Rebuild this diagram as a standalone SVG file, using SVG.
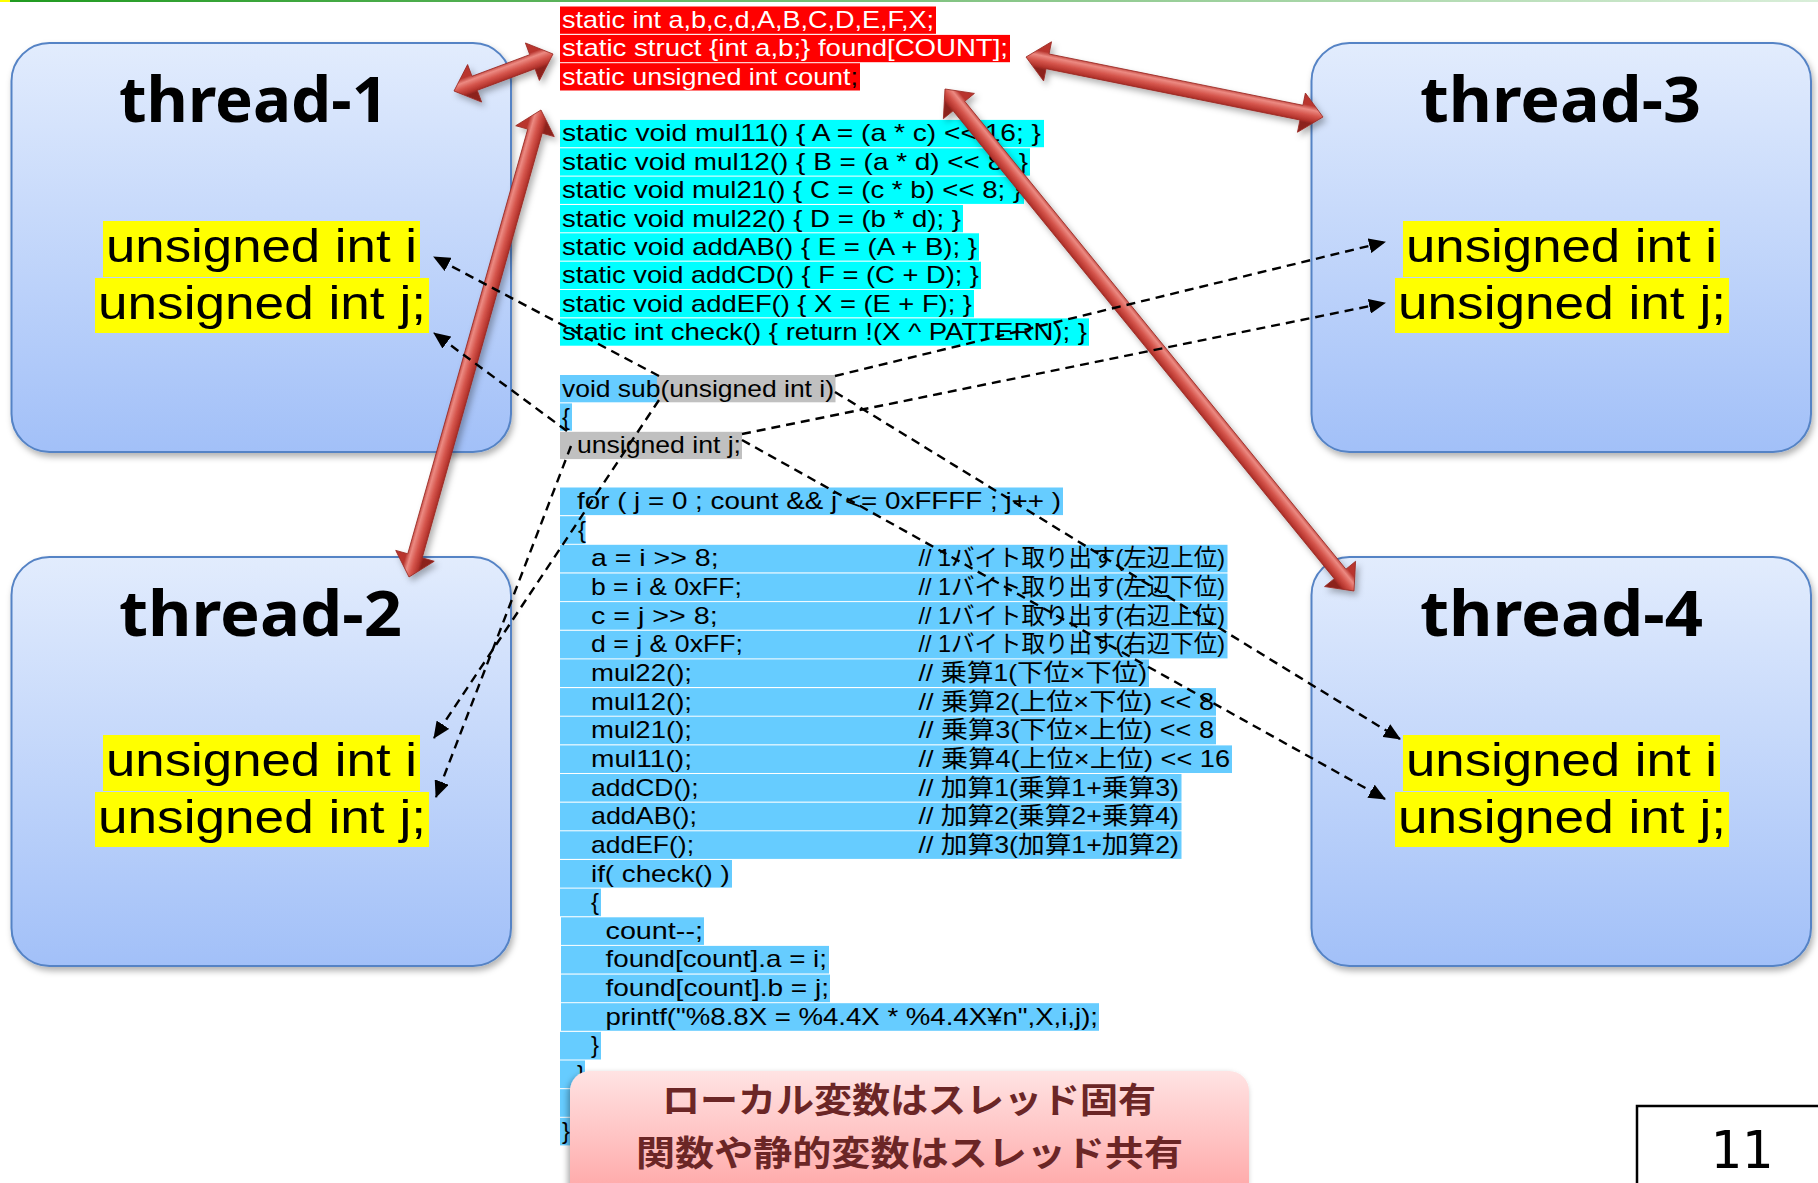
<svg xmlns="http://www.w3.org/2000/svg" width="1818" height="1183" viewBox="0 0 1818 1183">
  <defs>
    <linearGradient id="topRule" x1="0" y1="0" x2="1" y2="0">
      <stop offset="0" stop-color="#1f9a1f"/>
      <stop offset="0.5" stop-color="#7fc27f"/>
      <stop offset="1" stop-color="#d9eed9"/>
    </linearGradient>
    <linearGradient id="threadFill" x1="0" y1="0" x2="0" y2="1">
      <stop offset="0" stop-color="#e2ecfd"/>
      <stop offset="1" stop-color="#a2c0f8"/>
    </linearGradient>
    <linearGradient id="noteFill" x1="0" y1="0" x2="0" y2="1">
      <stop offset="0" stop-color="#ffe3e3"/>
      <stop offset="1" stop-color="#ff9f9f"/>
    </linearGradient>
    <linearGradient id="redShaft" gradientUnits="userSpaceOnUse" x1="0" y1="-9" x2="0" y2="9">
      <stop offset="0" stop-color="#b9362f"/>
      <stop offset="0.25" stop-color="#ec8a82"/>
      <stop offset="0.55" stop-color="#d5554c"/>
      <stop offset="0.85" stop-color="#b3332c"/>
      <stop offset="1" stop-color="#8c231e"/>
    </linearGradient>
    <filter id="boxShadow" x="-5%" y="-5%" width="112%" height="115%">
      <feDropShadow dx="2" dy="4" stdDeviation="3" flood-color="#000" flood-opacity="0.3"/>
    </filter>
    <filter id="noteShadow" x="-5%" y="-10%" width="110%" height="130%">
      <feDropShadow dx="-2" dy="3" stdDeviation="3" flood-color="#000" flood-opacity="0.35"/>
    </filter>
    <filter id="arrowShadow" x="-10%" y="-10%" width="125%" height="125%">
      <feDropShadow dx="3" dy="4" stdDeviation="3" flood-color="#000" flood-opacity="0.3"/>
    </filter>
    <marker id="tri" markerUnits="userSpaceOnUse" markerWidth="17" markerHeight="15" refX="16" refY="7.5" orient="auto">
      <path d="M0,0 L17,7.5 L0,15 Z" fill="#000"/>
    </marker>
    <style>
      .tbox { fill: url(#threadFill); stroke: #5583c5; stroke-width: 2; filter: url(#boxShadow); }
      .ttl { font-family: "Noto Sans", sans-serif; font-weight: 700; font-size: 62px; fill: #000; }
      .var { font-family: "Liberation Sans", sans-serif; font-size: 47px; fill: #000; }
      .hl-y { fill: #ffff00; }
      .code { font-family: "Liberation Sans", "Noto Sans CJK JP", sans-serif; font-size: 24px; fill: #000; }
      .code-w { fill: #fff; }
      .red { fill: #ff0000; }
      .cyan { fill: #00ffff; }
      .blue { fill: #66ccff; }
      .gray { fill: #c0c0c0; }
      .note { font-family: "Noto Sans CJK JP", sans-serif; font-weight: 700; font-size: 35px; fill: #6b2626; }
      .dash { fill: none; stroke: #000; stroke-width: 2.4; stroke-dasharray: 9 6; marker-end: url(#tri); }
      .arrow { fill: url(#redShaft); stroke: #9a2a24; stroke-width: 0.8; }
    </style>
  </defs>

  <rect width="1818" height="1183" fill="#fff"/>
  <!-- slide title rule -->
  <rect x="0" y="0" width="1818" height="2" fill="url(#topRule)"/>
  <rect x="0" y="0" width="10" height="2" fill="#ffff00"/>

  <!-- thread nodes -->
  <g id="thread-1">
    <rect class="tbox" x="11.5" y="43" width="499.5" height="409" rx="38"/>
    <text class="ttl" x="119" y="122" textLength="269" lengthAdjust="spacingAndGlyphs">thread-1</text>
    <rect class="hl-y" x="103" y="221" width="317" height="56"/>
    <rect class="hl-y" x="95" y="278" width="334" height="55"/>
    <text class="var" x="106" y="262" textLength="311" lengthAdjust="spacingAndGlyphs">unsigned int i</text>
    <text class="var" x="98" y="319" textLength="328" lengthAdjust="spacingAndGlyphs">unsigned int j;</text>
  </g>
  <g id="thread-2" transform="translate(0,514)">
    <rect class="tbox" x="11.5" y="43" width="499.5" height="409" rx="38"/>
    <text class="ttl" x="119" y="122" textLength="283" lengthAdjust="spacingAndGlyphs">thread-2</text>
    <rect class="hl-y" x="103" y="221" width="317" height="56"/>
    <rect class="hl-y" x="95" y="278" width="334" height="55"/>
    <text class="var" x="106" y="262" textLength="311" lengthAdjust="spacingAndGlyphs">unsigned int i</text>
    <text class="var" x="98" y="319" textLength="328" lengthAdjust="spacingAndGlyphs">unsigned int j;</text>
  </g>
  <g id="thread-3" transform="translate(1300,0)">
    <rect class="tbox" x="11.5" y="43" width="499.5" height="409" rx="38"/>
    <text class="ttl" x="120" y="122" textLength="281" lengthAdjust="spacingAndGlyphs">thread-3</text>
    <rect class="hl-y" x="103" y="221" width="317" height="56"/>
    <rect class="hl-y" x="95" y="278" width="334" height="55"/>
    <text class="var" x="106" y="262" textLength="311" lengthAdjust="spacingAndGlyphs">unsigned int i</text>
    <text class="var" x="98" y="319" textLength="328" lengthAdjust="spacingAndGlyphs">unsigned int j;</text>
  </g>
  <g id="thread-4" transform="translate(1300,514)">
    <rect class="tbox" x="11.5" y="43" width="499.5" height="409" rx="38"/>
    <text class="ttl" x="120" y="122" textLength="283" lengthAdjust="spacingAndGlyphs">thread-4</text>
    <rect class="hl-y" x="103" y="221" width="317" height="56"/>
    <rect class="hl-y" x="95" y="278" width="334" height="55"/>
    <text class="var" x="106" y="262" textLength="311" lengthAdjust="spacingAndGlyphs">unsigned int i</text>
    <text class="var" x="98" y="319" textLength="328" lengthAdjust="spacingAndGlyphs">unsigned int j;</text>
  </g>

  <!-- shared source code listing -->
  <g id="code" xml:space="preserve">
    <g id="code-highlights">
      <rect class="red" x="560" y="6.5" width="376" height="27.3"/>
      <rect class="red" x="560" y="34.9" width="450" height="27.3"/>
      <rect class="red" x="560" y="63.2" width="300" height="27.3"/>
      <rect class="cyan" x="560" y="119.9" width="484" height="27.3"/>
      <rect class="cyan" x="560" y="148.3" width="470" height="27.3"/>
      <rect class="cyan" x="560" y="176.6" width="464" height="27.3"/>
      <rect class="cyan" x="560" y="205" width="403" height="27.3"/>
      <rect class="cyan" x="560" y="233.3" width="419" height="27.3"/>
      <rect class="cyan" x="560" y="261.7" width="421" height="27.3"/>
      <rect class="cyan" x="560" y="290" width="414" height="27.3"/>
      <rect class="cyan" x="560" y="318.4" width="529" height="27.3"/>
      <rect class="blue" x="560" y="375" width="97" height="27.3"/>
      <rect class="gray" x="657" y="375" width="178.5" height="27.3"/>
      <rect class="blue" x="560" y="403.4" width="12" height="27.3"/>
      <rect class="gray" x="560" y="431.8" width="182" height="27.3"/>
      <rect class="blue" x="560" y="487.5" width="503" height="27.6"/>
      <rect class="blue" x="560" y="516.2" width="25.5" height="27.6"/>
      <rect class="blue" x="560" y="544.8" width="667.5" height="27.6"/>
      <rect class="blue" x="560" y="573.5" width="667.5" height="27.6"/>
      <rect class="blue" x="560" y="602.1" width="667.5" height="27.6"/>
      <rect class="blue" x="560" y="630.8" width="667.5" height="27.6"/>
      <rect class="blue" x="560" y="659.4" width="589" height="27.6"/>
      <rect class="blue" x="560" y="688.1" width="656" height="27.6"/>
      <rect class="blue" x="560" y="716.7" width="656" height="27.6"/>
      <rect class="blue" x="560" y="745.4" width="672" height="27.6"/>
      <rect class="blue" x="560" y="774" width="621.5" height="27.6"/>
      <rect class="blue" x="560" y="802.7" width="621.5" height="27.6"/>
      <rect class="blue" x="560" y="831.3" width="621.5" height="27.6"/>
      <rect class="blue" x="560" y="860" width="172" height="27.6"/>
      <rect class="blue" x="560" y="888.6" width="41" height="27.6"/>
      <rect class="blue" x="561" y="917.3" width="143" height="27.6"/>
      <rect class="blue" x="561" y="945.9" width="268" height="27.6"/>
      <rect class="blue" x="561" y="974.6" width="269" height="27.6"/>
      <rect class="blue" x="561" y="1003.2" width="538" height="27.6"/>
      <rect class="blue" x="560" y="1031.9" width="41" height="27.6"/>
      <rect class="blue" x="560" y="1060.5" width="25" height="27.6"/>
      <rect class="blue" x="560" y="1089.2" width="10" height="27.6"/>
      <rect class="blue" x="560" y="1117.8" width="10" height="27.6"/>
    </g>
    <g id="code-text" class="code">
      <text class="code-w" x="562" y="28" textLength="372" lengthAdjust="spacingAndGlyphs">static int a,b,c,d,A,B,C,D,E,F,X;</text>
      <text class="code-w" x="562" y="56.4" textLength="446" lengthAdjust="spacingAndGlyphs">static struct {int a,b;} found[COUNT];</text>
      <text class="code-w" x="562" y="84.7" textLength="296" lengthAdjust="spacingAndGlyphs">static unsigned int count<tspan fill="#000">;</tspan></text>
      <text x="562" y="141.4" textLength="479" lengthAdjust="spacingAndGlyphs">static void mul11() { A = (a * c) &lt;&lt; 16; }</text>
      <text x="562" y="169.8" textLength="466" lengthAdjust="spacingAndGlyphs">static void mul12() { B = (a * d) &lt;&lt; 8; }</text>
      <text x="562" y="198.1" textLength="460" lengthAdjust="spacingAndGlyphs">static void mul21() { C = (c * b) &lt;&lt; 8; }</text>
      <text x="562" y="226.5" textLength="399" lengthAdjust="spacingAndGlyphs">static void mul22() { D = (b * d); }</text>
      <text x="562" y="254.8" textLength="415" lengthAdjust="spacingAndGlyphs">static void addAB() { E = (A + B); }</text>
      <text x="562" y="283.2" textLength="417" lengthAdjust="spacingAndGlyphs">static void addCD() { F = (C + D); }</text>
      <text x="562" y="311.5" textLength="410" lengthAdjust="spacingAndGlyphs">static void addEF() { X = (E + F); }</text>
      <text x="562" y="339.9" textLength="525" lengthAdjust="spacingAndGlyphs">static int  check() { return !(X ^ PATTERN); }</text>
      <text x="562" y="396.5" textLength="272" lengthAdjust="spacingAndGlyphs">void sub(unsigned int i)</text>
      <text x="562" y="424.9">{</text>
      <text x="577" y="453.3" textLength="164" lengthAdjust="spacingAndGlyphs">unsigned int j;</text>
      <text x="577" y="509" textLength="484" lengthAdjust="spacingAndGlyphs">for ( j = 0 ; count &amp;&amp; j &lt;= 0xFFFF ; j++ )</text>
      <text x="578" y="537.7">{</text>
      <text x="591" y="566.3" textLength="127.6" lengthAdjust="spacingAndGlyphs">a = i &gt;&gt; 8;</text>
      <text x="918.5" y="566.3" textLength="306.5" lengthAdjust="spacingAndGlyphs">// 1バイト取り出す(左辺上位)</text>
      <text x="591" y="595" textLength="150.8" lengthAdjust="spacingAndGlyphs">b = i &amp; 0xFF;</text>
      <text x="918.5" y="595" textLength="306.5" lengthAdjust="spacingAndGlyphs">// 1バイト取り出す(左辺下位)</text>
      <text x="591" y="623.6" textLength="126.7" lengthAdjust="spacingAndGlyphs">c = j &gt;&gt; 8;</text>
      <text x="918.5" y="623.6" textLength="306.5" lengthAdjust="spacingAndGlyphs">// 1バイト取り出す(右辺上位)</text>
      <text x="591" y="652.3" textLength="152" lengthAdjust="spacingAndGlyphs">d = j &amp; 0xFF;</text>
      <text x="918.5" y="652.3" textLength="306.5" lengthAdjust="spacingAndGlyphs">// 1バイト取り出す(右辺下位)</text>
      <text x="591" y="680.9" textLength="101" lengthAdjust="spacingAndGlyphs">mul22();</text>
      <text x="918.5" y="680.9" textLength="228.5" lengthAdjust="spacingAndGlyphs">// 乗算1(下位×下位)</text>
      <text x="591" y="709.6" textLength="101" lengthAdjust="spacingAndGlyphs">mul12();</text>
      <text x="918.5" y="709.6" textLength="295.5" lengthAdjust="spacingAndGlyphs">// 乗算2(上位×下位) &lt;&lt; 8</text>
      <text x="591" y="738.2" textLength="101" lengthAdjust="spacingAndGlyphs">mul21();</text>
      <text x="918.5" y="738.2" textLength="295.5" lengthAdjust="spacingAndGlyphs">// 乗算3(下位×上位) &lt;&lt; 8</text>
      <text x="591" y="766.9" textLength="101" lengthAdjust="spacingAndGlyphs">mul11();</text>
      <text x="918.5" y="766.9" textLength="311.5" lengthAdjust="spacingAndGlyphs">// 乗算4(上位×上位) &lt;&lt; 16</text>
      <text x="591" y="795.5" textLength="107.5" lengthAdjust="spacingAndGlyphs">addCD();</text>
      <text x="918.5" y="795.5" textLength="260.5" lengthAdjust="spacingAndGlyphs">// 加算1(乗算1+乗算3)</text>
      <text x="591" y="824.2" textLength="106" lengthAdjust="spacingAndGlyphs">addAB();</text>
      <text x="918.5" y="824.2" textLength="260.5" lengthAdjust="spacingAndGlyphs">// 加算2(乗算2+乗算4)</text>
      <text x="591" y="852.8" textLength="103" lengthAdjust="spacingAndGlyphs">addEF();</text>
      <text x="918.5" y="852.8" textLength="260.5" lengthAdjust="spacingAndGlyphs">// 加算3(加算1+加算2)</text>
      <text x="591" y="881.5" textLength="138.7" lengthAdjust="spacingAndGlyphs">if( check() )</text>
      <text x="591" y="910.1">{</text>
      <text x="605.5" y="938.8" textLength="97.5" lengthAdjust="spacingAndGlyphs">count--;</text>
      <text x="605.5" y="967.4" textLength="221.5" lengthAdjust="spacingAndGlyphs">found[count].a = i;</text>
      <text x="605.5" y="996.1" textLength="223.5" lengthAdjust="spacingAndGlyphs">found[count].b = j;</text>
      <text x="605.5" y="1024.7" textLength="492.5" lengthAdjust="spacingAndGlyphs">printf("%8.8X = %4.4X * %4.4X¥n",X,i,j);</text>
      <text x="591" y="1053.4">}</text>
      <text x="577" y="1082">}</text>
      <text x="562" y="1139.3">}</text>
    </g>
  </g>

  <!-- connectors -->
  <g id="connectors">
    <!-- shared-memory access (3D block arrows) -->
    <g id="shared-access" filter="url(#arrowShadow)">
      <g transform="translate(454,91) rotate(-20.49)">
        <path class="arrow" d="M0,0 L22,-20 L22,-7.5 L83.7,-7.5 L83.7,-20 L105.7,0 L83.7,20 L83.7,7.5 L22,7.5 L22,20 Z"/>
      </g>
      <g transform="translate(409,577) rotate(-74.22)">
        <path class="arrow" d="M0,0 L22,-20 L22,-7.5 L463.3,-7.5 L463.3,-20 L485.3,0 L463.3,20 L463.3,7.5 L22,7.5 L22,20 Z"/>
      </g>
      <g transform="translate(1026,57) rotate(11.42)">
        <path class="arrow" d="M0,0 L22,-20 L22,-7.5 L281,-7.5 L281,-20 L303,0 L281,20 L281,7.5 L22,7.5 L22,20 Z"/>
      </g>
      <g transform="translate(945,89) rotate(50.83)">
        <path class="arrow" d="M0,0 L22,-20 L22,-7.5 L625.5,-7.5 L625.5,-20 L647.5,0 L625.5,20 L625.5,7.5 L22,7.5 L22,20 Z"/>
      </g>
    </g>
    <!-- per-thread copies of the locals (dashed) -->
    <g id="local-copies">
      <line class="dash" x1="659" y1="376" x2="434" y2="257"/>
      <line class="dash" x1="567" y1="431" x2="434" y2="333"/>
      <line class="dash" x1="659" y1="400" x2="434" y2="738"/>
      <line class="dash" x1="571" y1="446" x2="436" y2="797"/>
      <line class="dash" x1="835" y1="376" x2="1385" y2="242"/>
      <line class="dash" x1="742" y1="434" x2="1385" y2="303"/>
      <line class="dash" x1="835" y1="392" x2="1400" y2="739"/>
      <line class="dash" x1="742" y1="440" x2="1385" y2="799"/>
    </g>
  </g>

  <!-- summary note -->
  <g id="note">
    <rect x="570" y="1071" width="679" height="140" rx="20" fill="url(#noteFill)" filter="url(#noteShadow)"/>
    <text class="note" x="909" y="1113" text-anchor="middle" textLength="494" lengthAdjust="spacingAndGlyphs">ローカル変数はスレッド固有</text>
    <text class="note" x="909.5" y="1166" text-anchor="middle" textLength="547" lengthAdjust="spacingAndGlyphs">関数や静的変数はスレッド共有</text>
  </g>

  <!-- slide number -->
  <g id="page-number">
    <rect x="1637" y="1106" width="200" height="100" fill="#fff" stroke="#000" stroke-width="2.5"/>
    <text x="1710" y="1168" font-family="DejaVu Sans Mono, monospace" font-size="52" fill="#000">11</text>
  </g>
</svg>
